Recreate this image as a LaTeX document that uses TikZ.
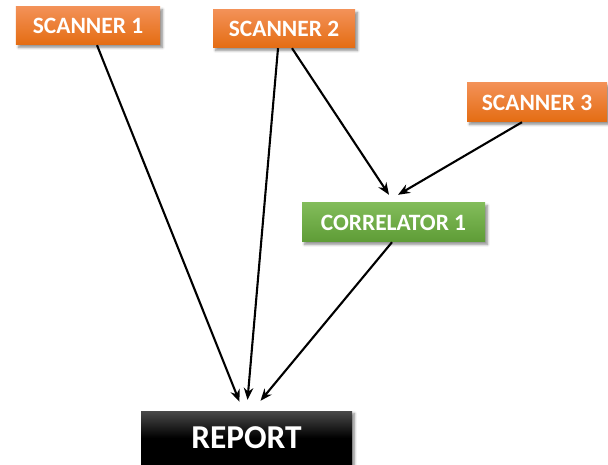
\documentclass[tikz,border=0pt]{standalone}
\usepackage{fontspec}
\setmainfont{Carlito}
\usetikzlibrary{arrows.meta,shadows.blur}
\definecolor{orTop}{HTML}{F39157}
\definecolor{orBot}{HTML}{E46C12}
\definecolor{grTop}{HTML}{82BC5A}
\definecolor{grBot}{HTML}{5E9C36}
\definecolor{bkTop}{HTML}{4A4A4A}
\tikzset{
  boxbase/.style={rectangle, inner sep=0pt, text=white, font=\bfseries\fontsize{23.5}{26}\selectfont,
    blur shadow={shadow xshift=2.5pt, shadow yshift=-2.5pt, shadow blur steps=6, shadow blur radius=2.5pt, shadow opacity=45}},
  scanbox/.style={boxbase, top color=orTop, bottom color=orBot, minimum height=38bp},
  corrbox/.style={boxbase, top color=grTop, bottom color=grBot, minimum height=39bp},
  repbox/.style={boxbase, top color=bkTop, bottom color=black, middle color=black, font=\bfseries\fontsize{33.5}{36}\selectfont},
  conn/.style={-{Stealth[length=12bp,width=9.5bp]}, line width=2.1bp, black}
}
\begin{document}
\begin{tikzpicture}[x=1bp,y=-1bp]
\useasboundingbox (0,0) rectangle (608,465);
\node[scanbox, minimum width=144bp] (s1) at (88,26) {SCANNER 1};
\node[scanbox, minimum width=142bp] (s2) at (284,29) {SCANNER 2};
\node[scanbox, minimum width=140bp, minimum height=39bp] (s3) at (537,102.5) {SCANNER 3};
\node[corrbox, minimum width=183bp] (c1) at (393.5,222.5) {CORRELATOR 1};
\node[repbox, minimum width=211bp, minimum height=54bp] (rep) at (246.5,438) {REPORT};
\draw[conn] ([xshift=9bp]s1.south) -- ([xshift=-7bp,yshift=9bp]rep.north);
\draw[conn] ([xshift=-6bp]s2.south) -- ([xshift=1bp,yshift=11bp]rep.north);
\draw[conn] ([xshift=8bp]s2.south) -- ([xshift=-4.5bp,yshift=8bp]c1.north);
\draw[conn] ([xshift=-15bp]s3.south) -- ([xshift=4.5bp,yshift=8bp]c1.north);
\draw[conn] ([xshift=-1.5bp]c1.south) -- ([xshift=14bp,yshift=10bp]rep.north);
\end{tikzpicture}
\end{document}
